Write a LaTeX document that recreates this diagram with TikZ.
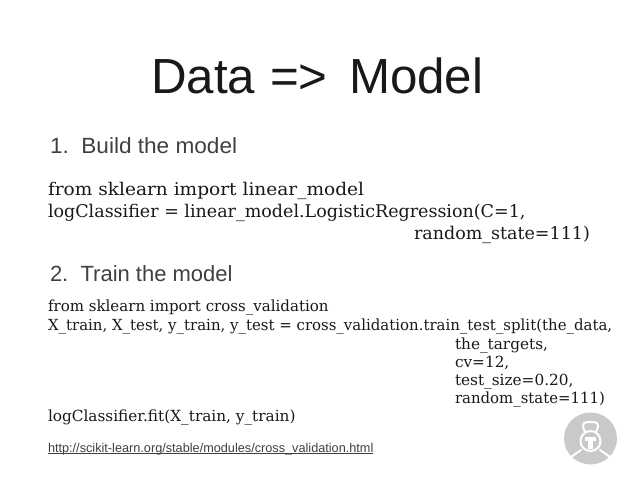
\documentclass[tikz,border=0pt]{standalone}
\usepackage{fontspec}
\setmainfont{Liberation Sans}
\newfontfamily\codefont{DejaVu Serif}
\newcommand{\widen}[2]{\scalebox{#1}[1]{#2}}
\tikzset{
 x=1pt,y=-1pt,
 txt/.style={anchor=base west,inner sep=0pt,outer sep=0pt,text=black!90},
 title/.style={txt,font=\fontsize{49.3}{49.3}\selectfont},
 head/.style={txt,font=\fontsize{22}{22}\selectfont,text=black!75},
 codeA/.style={txt,font=\codefont\fontsize{17.5}{17.5}\selectfont},
 codeB/.style={txt,font=\codefont\fontsize{15.3}{15.3}\selectfont},
 link/.style={txt,font=\fontsize{12.7}{12.7}\selectfont,text=black!75},
 mark line/.style={white,line width=2pt,line cap=round},
}
\begin{document}
\begin{tikzpicture}
\useasboundingbox (0,0) rectangle (638,479);
\fill[white] (0,0) rectangle (638,479);
\node[title] (t1) at (151,93) {Data};
\node[title] (t2) at (270,93) {=>};
\node[title] (t3) at (349,93) {Model};
\node[head] (h1) at (50,153) {\widen{1.027}{1.\ \ Build the model}};
\node[codeA] (a1) at (48,195) {\widen{1.06}{from sklearn import linear\_model}};
\node[codeA] (a2) at (48,217) {logClassifier = linear\_model.LogisticRegression(C=1,};
\node[codeA] (a3) at (414,239) {random\_state=111)};
\node[head] (h2) at (50,281) {2.\ \ Train the model};
\node[codeB] (b1) at (48,311) {\widen{0.983}{from sklearn import cross\_validation}};
\node[codeB] (b2) at (48,330) {\widen{0.977}{X\_train, X\_test, y\_train, y\_test = cross\_validation.train\_test\_split(the\_data,}};
\node[codeB] (b3) at (455,349) {the\_targets,};
\node[codeB] (b4) at (455,367) {cv=12,};
\node[codeB] (b5) at (455,385) {test\_size=0.20,};
\node[codeB] (b6) at (455,403) {\widen{0.975}{random\_state=111)}};
\node[codeB] (b7) at (48,421) {logClassifier.fit(X\_train, y\_train)};
\node[link] (l) at (48,452) {http://scikit-learn.org/stable/modules/cross\_validation.html};
\draw[black!75,line width=0.6pt] (48,453.2) -- (373,453.2);
% logo
\fill[black!21] (590.5,438.5) ellipse (26.5 and 26);
\draw[mark line] (571,457) -- (581,450) (610,457) -- (600,450);
\draw[mark line] (585,432) .. controls (580,422) and (585,422) .. (590.5,422) .. controls (596,422) and (601,422) .. (596,432);
\draw[mark line] (590.5,441) circle (10);
\fill[white] (585,437) rectangle (596,441);
\fill[white] (588,441) rectangle (593,449);
\end{tikzpicture}
\end{document}
